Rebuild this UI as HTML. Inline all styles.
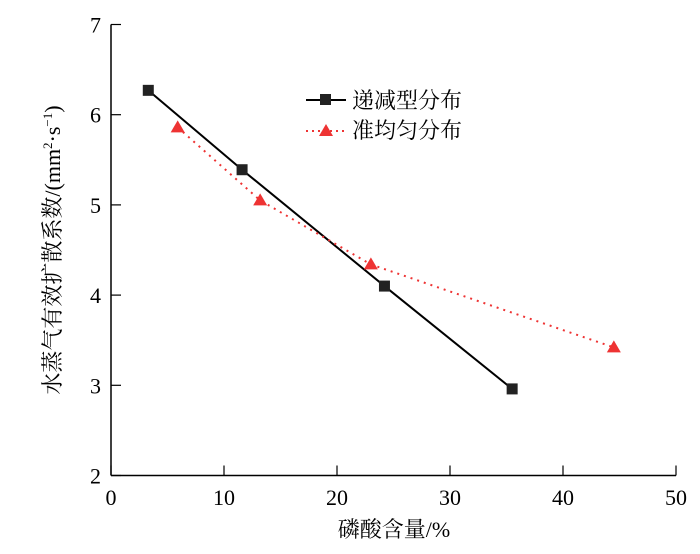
<!DOCTYPE html>
<html><head><meta charset="utf-8"><style>
body{margin:0;background:#fff}
svg{font-family:"Liberation Serif","Noto Serif CJK SC",serif}
</style></head><body>
<svg id="c" width="700" height="549">
<g id="axes"></g><g id="marks"></g>
<text x="394" y="537" font-size="22" text-anchor="middle">磷酸含量/%</text>
<text transform="translate(60,250) rotate(-90)" font-size="22" text-anchor="middle">水蒸气有效扩散系数/(mm<tspan font-size="13" dy="-8">2</tspan><tspan dy="8">·s</tspan><tspan font-size="13" dy="-8">−1</tspan><tspan dy="8">)</tspan></text>
<g>
<line x1="306" y1="100" x2="346" y2="100" stroke="#000" stroke-width="2"/>
<rect x="320" y="94" width="11" height="11" fill="#222"/>
<text x="352" y="108" font-size="22">递减型分布</text>
<line x1="306" y1="131" x2="346" y2="131" stroke="#e33" stroke-width="2" stroke-dasharray="2,4"/>
<polygon points="326,124 333,136 319,136" fill="#e33"/>
<text x="352" y="138" font-size="22">准均匀分布</text>
</g>
</svg>
<script>
const xTicks=[0,10,20,30,40,50];
const yTicks=[2,3,4,5,6,7];
const blackX=[3.3,11.6,24.2,35.5];
const blackY=[6.27,5.39,4.10,2.96];
const redX=[5.9,13.2,23.0,44.5];
const redY=[5.86,5.05,4.34,3.42];
const X=v=>111+v*11.3, Y=v=>475.5-(v-2)*90.2;
const NS="http://www.w3.org/2000/svg";
const ax=document.getElementById('axes'), mk=document.getElementById('marks');
function el(t,a,p){const e=document.createElementNS(NS,t);for(const k in a)e.setAttribute(k,a[k]);p.appendChild(e);return e;}
let l=el('line',{x1:111,y1:Y(7),x2:111,y2:Y(2),stroke:'#000','stroke-width':1.5},ax);


l=el('line',{x1:111,y1:Y(2),x2:X(50),y2:Y(2),stroke:'#000','stroke-width':1.5},ax);


xTicks.forEach(v=>{el('line',{x1:X(v),x2:X(v),y1:Y(2),y2:Y(2)-10,stroke:'#000','stroke-width':1.2},ax);
const t=el('text',{x:X(v),y:505,'font-size':22,'text-anchor':'middle'},ax);t.textContent=v;

});
yTicks.forEach(v=>{el('line',{x1:111,x2:121,y1:Y(v),y2:Y(v),stroke:'#000','stroke-width':1.2},ax);
const t=el('text',{x:101,y:Y(v)+8,'font-size':22,'text-anchor':'end'},ax);t.textContent=v;

});
let p=el('polyline',{points:blackX.map((x,i)=>X(x)+','+Y(blackY[i])).join(' '),fill:'none',stroke:'#000','stroke-width':2},mk);


p=el('polyline',{points:redX.map((x,i)=>X(x)+','+Y(redY[i])).join(' '),fill:'none',stroke:'#e33','stroke-width':2,'stroke-dasharray':'2,5'},mk);


blackX.forEach((x,i)=>{const r=el('rect',{x:X(x)-5.5,y:Y(blackY[i])-5.5,width:11,height:11,fill:'#222'},mk);

});
redX.forEach((x,i)=>{const cx=X(x),cy=Y(redY[i]);const t=el('polygon',{points:`${cx},${cy-7} ${cx+7},${cy+5} ${cx-7},${cy+5}`,fill:'#e33'},mk);

});
</script>
</body></html>
